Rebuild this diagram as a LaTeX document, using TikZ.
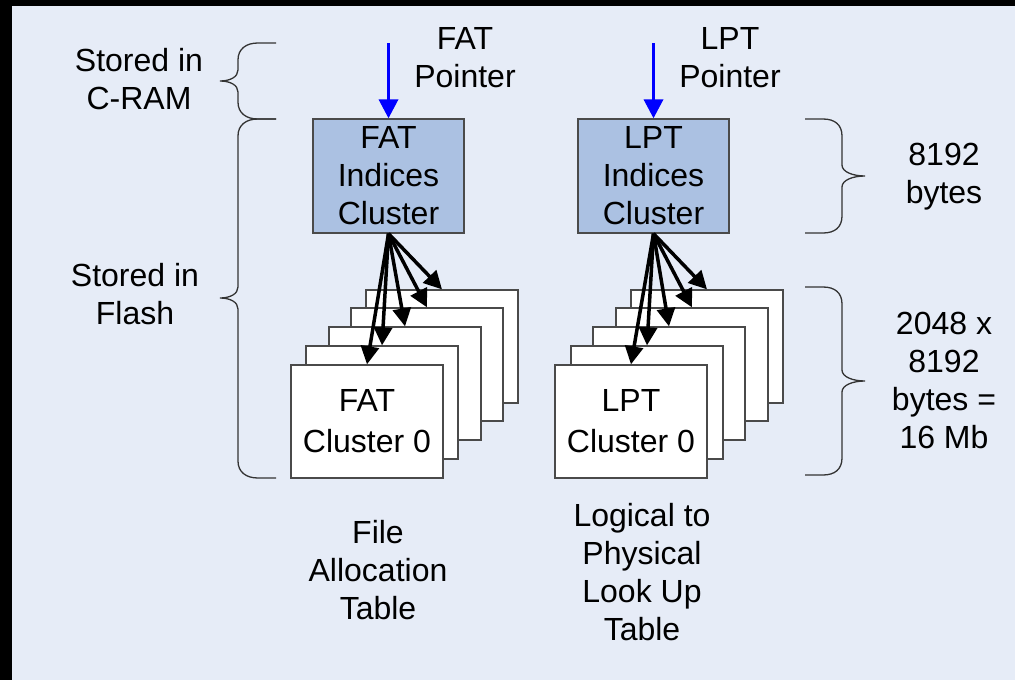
\documentclass[tikz,border=0pt]{standalone}
\usepackage{fontspec}
\setmainfont{Liberation Sans}
\usetikzlibrary{arrows.meta}
\definecolor{bgc}{HTML}{E6ECF7}
\definecolor{idxc}{HTML}{ABC1E2}
\definecolor{edgec}{HTML}{4A4A4A}
\definecolor{bracec}{HTML}{333333}
\begin{document}
\begin{tikzpicture}[x=1pt,y=-1pt,
  txt/.style={font=\fontsize{32}{38}\selectfont, align=center, inner sep=0pt},
  idxbox/.style={draw=edgec, line width=1.3pt, fill=idxc, minimum width=151pt, minimum height=114pt, inner sep=0pt, font=\fontsize{32}{38}\selectfont, align=center},
  stackbox/.style={draw=edgec, line width=1.3pt, fill=white, minimum width=152pt, minimum height=113pt, inner sep=0pt, font=\fontsize{32}{41}\selectfont, align=center},
  ptrarrow/.style={draw=blue, line width=3.5pt, -{Triangle[length=19pt,width=19pt]}},
  fanarrow/.style={draw=black, line width=3.5pt, -{Triangle[length=18pt,width=18pt]}},
  bracepath/.style={draw=bracec, line width=1.3pt}]
\useasboundingbox (0,0) rectangle (1015,680);
\fill[black] (0,0) rectangle (1015,680);
\fill[bgc] (12,6) rectangle (1015,680);

% left labels and braces
\node[txt] (cram) at (139,79.5) {Stored in\\C-RAM};
\node[txt] (flash) at (135,294) {Stored in\\Flash};
\draw[bracepath] (276,43) -- (258,43) .. controls (246,43) and (238,49) .. (238,60) -- (238,70) .. controls (238,77) and (230,81) .. (220,81) .. controls (230,81) and (238,85) .. (238,92) -- (238,102) .. controls (238,113) and (246,119) .. (258,119) -- (276,119);
\draw[bracepath] (276,119) -- (258,119) .. controls (246,119) and (238,125) .. (238,136) -- (238,287) .. controls (238,294) and (230,298) .. (220,298) .. controls (230,298) and (238,302) .. (238,309) -- (238,461) .. controls (238,472) and (246,478) .. (258,478) -- (276,478);

% right labels and braces
\node[txt] (sz1) at (944,177) {8192\\bytes};
\node[txt] (sz2) at (944,380) {2048 x\\8192\\bytes =\\16 Mb};
\draw[bracepath] (805,119) -- (823,119) .. controls (835,119) and (842,125) .. (842,136) -- (842,165) .. controls (842,172) and (853,176) .. (865,176) .. controls (853,176) and (842,180) .. (842,187) -- (842,216) .. controls (842,227) and (835,233) .. (823,233) -- (805,233);
\draw[bracepath] (805,287) -- (823,287) .. controls (835,287) and (842,293) .. (842,304) -- (842,370) .. controls (842,377) and (853,381) .. (865,381) .. controls (853,381) and (842,385) .. (842,392) -- (842,458) .. controls (842,469) and (835,475) .. (823,475) -- (805,475);

% pointer labels
\node[txt] (fatptrlbl) at (465,57.5) {FAT\\Pointer};
\node[txt] (lptptrlbl) at (730,57.5) {LPT\\Pointer};

% index boxes
\node[idxbox] (fatidx) at (388.5,176) {FAT\\Indices\\Cluster};
\node[idxbox] (lptidx) at (653.5,176) {LPT\\Indices\\Cluster};

% FAT stack
\node[stackbox] (fat5) at (442,346.5) {};
\node[stackbox] (fat4) at (427,364.5) {};
\node[stackbox] (fat3) at (405,383.5) {};
\node[stackbox] (fat2) at (382,402.5) {};
\node[stackbox] (fat1) at (367,421.5) {FAT\\Cluster 0};

% LPT stack
\node[stackbox] (lpt5) at (707,346.5) {};
\node[stackbox] (lpt4) at (692,364.5) {};
\node[stackbox] (lpt3) at (669,383.5) {};
\node[stackbox] (lpt2) at (647,402.5) {};
\node[stackbox] (lpt1) at (631,421.5) {LPT\\Cluster 0};

% pointer arrows
\coordinate (fatptr) at (388.5,43);
\coordinate (lptptr) at (653.5,43);
\draw[ptrarrow] (fatptr) -- (fatidx.north);
\draw[ptrarrow] (lptptr) -- (lptidx.north);

% fan arrows
\foreach \i in {1,...,5} {
  \draw[fanarrow] (fatidx.south) -- (fat\i.north);
  \draw[fanarrow] (lptidx.south) -- (lpt\i.north);
}

% bottom labels
\node[txt] (fatname) at (378,570) {File\\Allocation\\Table};
\node[txt] (lptname) at (642,572) {Logical to\\Physical\\Look Up\\Table};
\end{tikzpicture}
\end{document}
